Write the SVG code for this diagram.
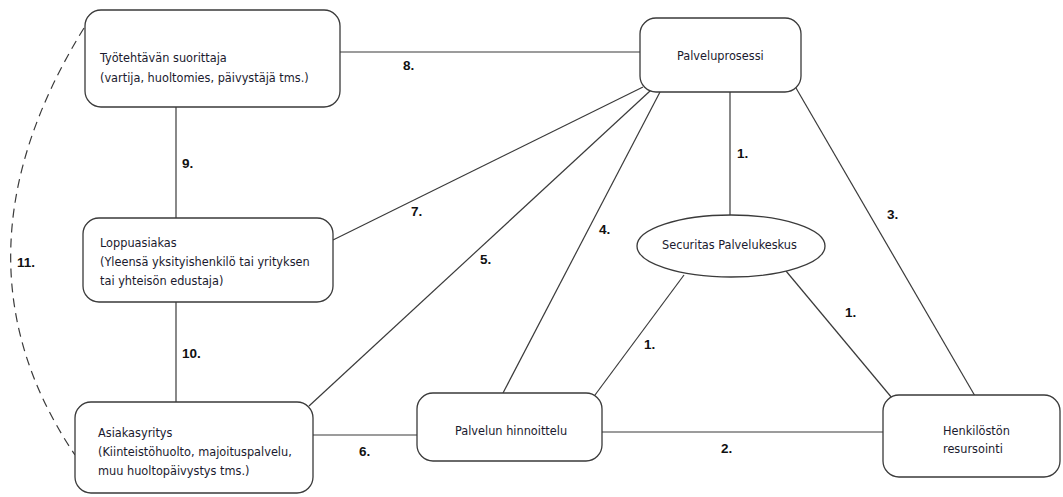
<svg xmlns="http://www.w3.org/2000/svg" width="1063" height="497" viewBox="0 0 1063 497">
  <style>
    .box { fill: #ffffff; stroke: #3a3a3a; stroke-width: 1.3; }
    .txt { font-family: "DejaVu Sans Condensed", "DejaVu Sans", sans-serif; font-size: 12.6px; fill: #1a1a2e; }
    .num { font-family: "Liberation Sans", Arial, sans-serif; font-size: 13.5px; font-weight: bold; fill: #111111; }
    .edge { fill: none; stroke: #3a3a3a; stroke-width: 1.2; }
    .dash { stroke-dasharray: 9 6; }
  </style>
  <rect width="1063" height="497" fill="#ffffff"/>

  <!-- connectors -->
  <g id="connectors">
    <line class="edge" x1="340" y1="52" x2="640" y2="52"/>
    <line class="edge" x1="176" y1="107" x2="176" y2="218"/>
    <line class="edge" x1="176" y1="302" x2="176" y2="402"/>
    <line class="edge" x1="333" y1="240" x2="643" y2="87"/>
    <line class="edge" x1="309" y1="406" x2="650" y2="91"/>
    <line class="edge" x1="503" y1="393" x2="660" y2="92"/>
    <line class="edge" x1="730" y1="92" x2="730" y2="215"/>
    <line class="edge" x1="796" y1="88" x2="975" y2="396"/>
    <line class="edge" x1="684" y1="275" x2="595" y2="395"/>
    <line class="edge" x1="786" y1="271" x2="892" y2="398"/>
    <line class="edge" x1="313" y1="435" x2="417" y2="435"/>
    <line class="edge" x1="602" y1="432" x2="883" y2="432"/>
    <path class="edge dash" d="M84,28 Q-58,258 75,455"/>

    <text class="num" x="403" y="70">8.</text>
    <text class="num" x="182" y="168">9.</text>
    <text class="num" x="182" y="358">10.</text>
    <text class="num" x="411" y="216">7.</text>
    <text class="num" x="480" y="264">5.</text>
    <text class="num" x="599" y="234">4.</text>
    <text class="num" x="737" y="158">1.</text>
    <text class="num" x="887" y="219">3.</text>
    <text class="num" x="644" y="349">1.</text>
    <text class="num" x="845" y="317">1.</text>
    <text class="num" x="359" y="456">6.</text>
    <text class="num" x="721" y="453">2.</text>
    <text class="num" x="17" y="267">11.</text>
  </g>

  <g id="tyotehtavan-suorittaja">
    <rect class="box" x="85" y="10" width="255" height="97" rx="16"/>
    <text class="txt" x="100" y="62">Työtehtävän suorittaja</text>
    <text class="txt" x="100" y="82">(vartija, huoltomies, päivystäjä tms.)</text>
  </g>

  <g id="palveluprosessi">
    <rect class="box" x="640" y="18" width="161" height="74" rx="16"/>
    <text class="txt" x="677" y="60">Palveluprosessi</text>
  </g>

  <g id="loppuasiakas">
    <rect class="box" x="83" y="218" width="250" height="84" rx="16"/>
    <text class="txt" x="100" y="247">Loppuasiakas</text>
    <text class="txt" x="100" y="266">(Yleensä yksityishenkilö tai yrityksen</text>
    <text class="txt" x="100" y="285">tai yhteisön edustaja)</text>
  </g>

  <g id="asiakasyritys">
    <rect class="box" x="75" y="402" width="238" height="91" rx="16"/>
    <text class="txt" x="98" y="437">Asiakasyritys</text>
    <text class="txt" x="98" y="456">(Kiinteistöhuolto, majoituspalvelu,</text>
    <text class="txt" x="98" y="475">muu huoltopäivystys tms.)</text>
  </g>

  <g id="palvelun-hinnoittelu">
    <rect class="box" x="417" y="393" width="185" height="68" rx="16"/>
    <text class="txt" x="455" y="435">Palvelun hinnoittelu</text>
  </g>

  <g id="henkiloston-resursointi">
    <rect class="box" x="883" y="395" width="177" height="82" rx="16"/>
    <text class="txt" x="943" y="435">Henkilöstön</text>
    <text class="txt" x="943" y="453">resursointi</text>
  </g>

  <g id="securitas-palvelukeskus">
    <ellipse class="box" cx="731" cy="246" rx="94" ry="31"/>
    <text class="txt" x="662" y="249">Securitas Palvelukeskus</text>
  </g>
</svg>
